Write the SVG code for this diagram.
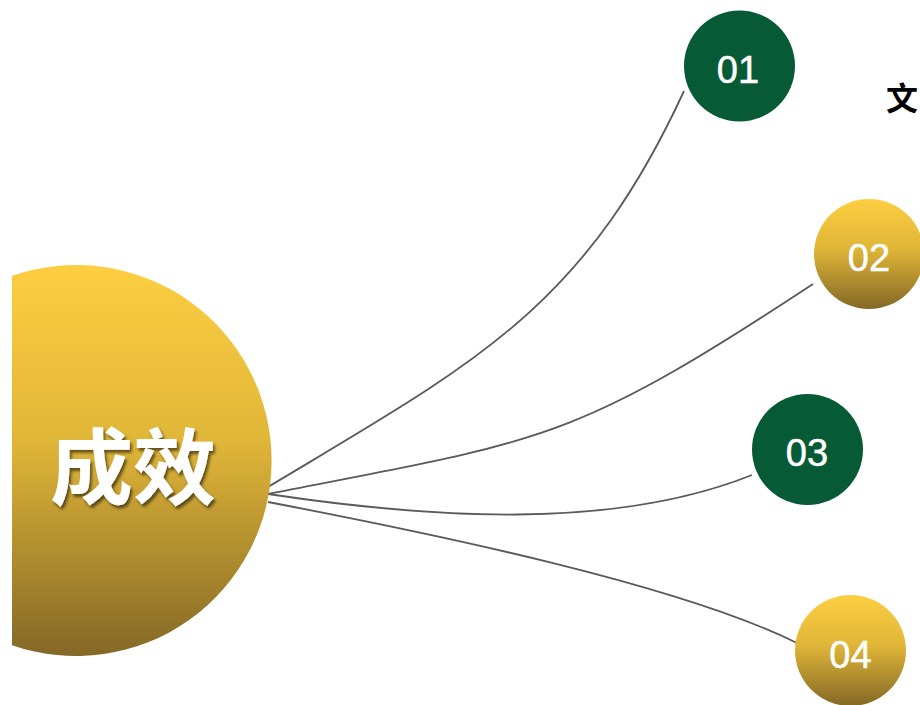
<svg xmlns="http://www.w3.org/2000/svg" width="920" height="705" viewBox="0 0 920 705">
<defs>
<linearGradient id="gold" x1="0" y1="0" x2="0" y2="1">
<stop offset="0" stop-color="#FDCE41"/>
<stop offset="0.45" stop-color="#E0B638"/>
<stop offset="1" stop-color="#846826"/>
</linearGradient>
<filter id="shadow" x="-20%" y="-20%" width="140%" height="140%">
<feDropShadow dx="2" dy="3" stdDeviation="1.5" flood-color="#000" flood-opacity="0.55"/>
</filter>
</defs>
<style>
.conn{fill:none;stroke:#5a5a5a;stroke-width:1.8}
.green{fill:#065A35}
.gold{fill:url(#gold)}
.num{font-family:"Liberation Sans",Arial,sans-serif;font-size:38px;fill:#fff;text-anchor:middle;stroke:#fff;stroke-width:0.5}
.title{font-family:"Noto Sans CJK SC",sans-serif;font-weight:700;font-size:83px;fill:#fff;text-anchor:middle}
.side{font-family:"Noto Sans CJK SC",sans-serif;font-weight:700;font-size:32px;fill:#000}
</style>
<rect width="920" height="705" fill="#fff"/>
<g id="connectors">
<path class="conn" d="M268,487 C473,364 583,310 684,91"/>
<path class="conn" d="M268,494 C544,440 570,444 813,284"/>
<path class="conn" d="M268,494 C428,518 612,531 752,475"/>
<path class="conn" d="M268,502 C440,535 680,585 797,643"/>
</g>
<g id="hub">
<path class="gold" d="M12,275.8 A195.5,195.5 0 1 1 12,645.2 Z"/>
<text class="title" x="133" y="498" filter="url(#shadow)">成效</text>
</g>
<g id="node01">
<circle class="green" cx="739.5" cy="66" r="55.5"/>
<text class="num" x="738" y="83">01</text>
</g>
<g id="node02">
<circle class="gold" cx="869" cy="254" r="55"/>
<text class="num" x="869" y="271">02</text>
</g>
<g id="node03">
<circle class="green" cx="807.5" cy="449.5" r="55.5"/>
<text class="num" x="807" y="466">03</text>
</g>
<g id="node04">
<circle class="gold" cx="850.5" cy="650.5" r="55.5"/>
<text class="num" x="850.5" y="667.5">04</text>
</g>
<g id="label01">
<text class="side" x="886" y="110">文</text>
</g>
</svg>
